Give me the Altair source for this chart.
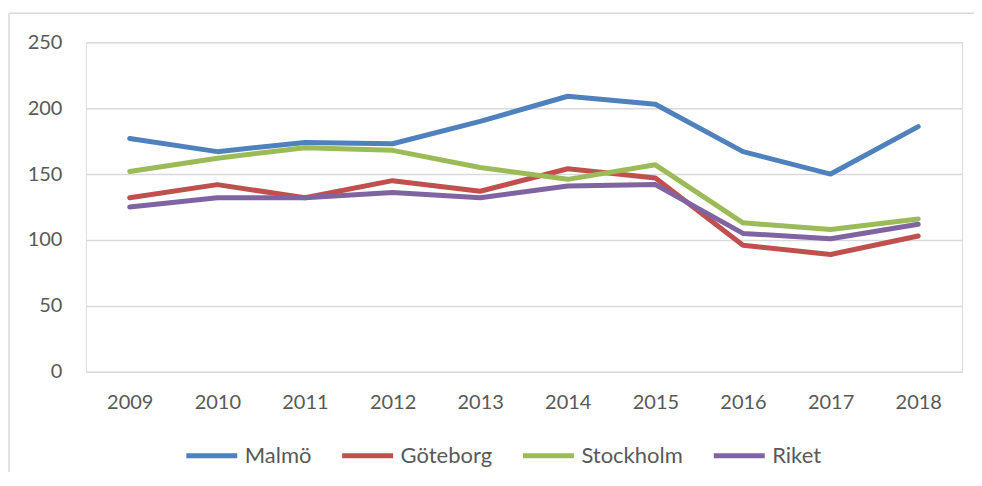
import altair as alt
import pandas as pd

years = ["2009", "2010", "2011", "2012", "2013", "2014", "2015", "2016", "2017", "2018"]
series = ["Malmö", "Göteborg", "Stockholm", "Riket"]
malmo = [177, 167, 174, 173, 190, 209, 203, 167, 150, 186]
goteborg = [132, 142, 132, 145, 137, 154, 147, 96, 89, 103]
stockholm = [152, 162, 170, 168, 155, 146, 157, 113, 108, 116]
riket = [125, 132, 132, 136, 132, 141, 142, 105, 101, 112]
colors = ["#4F81BD", "#C0504D", "#9BBB59", "#8064A2"]

rows = []
for name, vals in zip(series, [malmo, goteborg, stockholm, riket]):
    for y, v in zip(years, vals):
        rows.append({"year": y, "serie": name, "value": v})
df = pd.DataFrame(rows)

FONT = "Lato"
TXT = "#595959"
GRID = "#D9D9D9"

lines = alt.Chart(df).mark_line(strokeWidth=5, strokeCap="round", strokeJoin="round").encode(
    x=alt.X("year:O", sort=years, title=None,
            scale=alt.Scale(type="point", padding=0.5),
            axis=alt.Axis(labelAngle=0, labelFont=FONT, labelFontSize=20, labelColor=TXT,
                          ticks=False, domain=False, grid=False, labelPadding=21)),
    y=alt.Y("value:Q", title=None,
            scale=alt.Scale(domain=[0, 250], nice=False),
            axis=alt.Axis(values=[0, 50, 100, 150, 200, 250], labelFont=FONT, labelFontSize=20,
                          labelColor=TXT, ticks=False, tickSize=0, domain=False, grid=True,
                          gridColor=GRID, gridWidth=1.5, labelPadding=24)),
    color=alt.Color("serie:N", sort=series,
                    scale=alt.Scale(domain=series, range=colors),
                    legend=alt.Legend(orient="none", legendX=98, legendY=386, direction="horizontal",
                                      columns=4, title=None, symbolType="stroke", symbolSize=2601,
                                      symbolStrokeWidth=5, labelFont=FONT, labelFontSize=22,
                                      labelColor=TXT, labelOffset=5, columnPadding=20, padding=0)),
    order=alt.Order("year:O"),
)

frame_df = pd.DataFrame({"a": [0]})
left_rule = alt.Chart(frame_df).mark_rule(color=GRID, strokeWidth=1.5).encode(
    x=alt.value(-77), y=alt.value(-29), y2=alt.value(600))
top_rule = alt.Chart(frame_df).mark_rule(color=GRID, strokeWidth=1.5).encode(
    x=alt.value(-77), x2=alt.value(1000), y=alt.value(-29))

chart = alt.layer(left_rule, top_rule, lines).properties(
    width=877, height=330,
    autosize=alt.AutoSizeParams(type="none"),
    padding={"left": 78, "top": 34, "right": 12, "bottom": 100},
).configure_view(stroke=None).configure(background="white")

chart.save("out.html", embed_options={"renderer": "svg", "actions": False})
